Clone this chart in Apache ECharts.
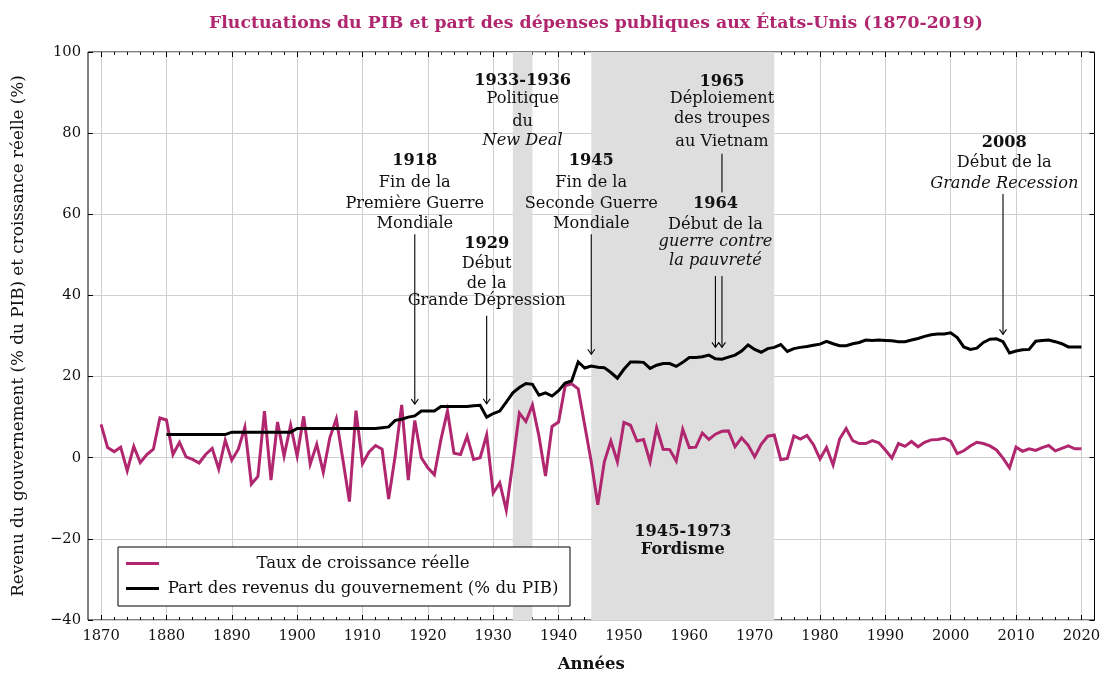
<!DOCTYPE html>
<html>
<head>
<meta charset="utf-8">
<script src="https://cdn.jsdelivr.net/npm/echarts@6/dist/echarts.min.js"></script>
<style>
  html, body { margin: 0; padding: 0; background: #fff; }
  #chart { width: 1113px; height: 675px; }
</style>
</head>
<body>
<div id="chart"></div>
<script>
// --- data ---
const growthStart = 1870;
const growth = [
  8.2, 2.5, 1.5, 2.6, -3.2, 2.8, -1.2, 0.8, 2.1, 9.8,
  9.3, 0.8, 3.8, 0.2, -0.4, -1.3, 0.8, 2.3, -2.8, 4.3,
  -0.6, 2.1, 7.5, -6.5, -4.6, 11.5, -5.5, 8.8, 0.4, 8.0,
  0.4, 10.2, -1.6, 3.3, -3.6, 4.9, 9.6, -0.5, -10.8, 11.6,
  -1.5, 1.4, 3.0, 2.1, -10.2, 0.4, 13.0, -5.5, 9.2, 0.0,
  -2.5, -4.2, 4.5, 11.5, 1.1, 0.8, 5.3, -0.4, 0.0, 5.6,
  -8.7, -6.2, -12.9, -1.2, 11.0, 8.9, 13.0, 5.3, -4.5, 7.7,
  8.8, 17.7, 18.2, 17.0, 8.0, -1.0, -11.6, -1.0, 4.1, -1.0,
  8.7, 8.0, 4.1, 4.5, -1.0, 7.4, 2.1, 2.0, -0.8, 7.0,
  2.5, 2.6, 6.1, 4.5, 5.8, 6.5, 6.6, 2.7, 4.9, 3.1,
  0.2, 3.3, 5.3, 5.6, -0.5, -0.2, 5.4, 4.6, 5.5, 3.2,
  -0.3, 2.5, -1.8, 4.6, 7.2, 4.2, 3.5, 3.5, 4.2, 3.7,
  1.9, -0.1, 3.5, 2.8, 4.0, 2.7, 3.8, 4.4, 4.5, 4.8,
  4.1, 1.0, 1.7, 2.9, 3.8, 3.5, 2.9, 1.9, -0.1, -2.5,
  2.6, 1.6, 2.2, 1.8, 2.5, 3.0, 1.7, 2.3, 2.9, 2.2,
  2.2
];

const govStart = 1880;
const govShare = [
  5.7, 5.7, 5.7, 5.7, 5.7, 5.7, 5.7, 5.7, 5.7, 5.7,
  6.3, 6.3, 6.3, 6.3, 6.3, 6.3, 6.3, 6.3, 6.3, 6.3,
  7.2, 7.2, 7.2, 7.2, 7.2, 7.2, 7.2, 7.2, 7.2, 7.2,
  7.2, 7.2, 7.2, 7.4, 7.6, 9.2, 9.5, 10.0, 10.3, 11.5,
  11.5, 11.5, 12.6, 12.6, 12.6, 12.6, 12.6, 12.8, 12.9, 10.0,
  10.9, 11.5, 13.7, 16.0, 17.3, 18.3, 18.1, 15.4, 16.0, 15.2,
  16.5, 18.4, 18.9, 23.6, 22.1, 22.6, 22.3, 22.2, 21.0, 19.6,
  21.8, 23.6, 23.6, 23.5, 22.0, 22.8, 23.2, 23.2, 22.5, 23.5,
  24.7, 24.7, 24.9, 25.3, 24.4, 24.3, 24.8, 25.3, 26.3, 27.8,
  26.7, 26.0, 26.9, 27.2, 27.9, 26.2, 26.9, 27.2, 27.4, 27.7,
  28.0, 28.7, 28.1, 27.6, 27.6, 28.1, 28.4, 29.0, 28.9, 29.0,
  28.9, 28.8, 28.6, 28.6, 29.0, 29.4, 29.9, 30.3, 30.5, 30.5,
  30.8, 29.6, 27.3, 26.7, 27.0, 28.4, 29.2, 29.3, 28.6, 25.8,
  26.3, 26.6, 26.7, 28.7, 28.9, 29.0, 28.6, 28.1, 27.3, 27.3,
  27.3
];

const xTicks = [1870, 1880, 1890, 1900, 1910, 1920, 1930, 1940, 1950, 1960,
  1970, 1980, 1990, 2000, 2010, 2020];
const bands = [[1933, 1936], [1945, 1973]];
const seriesNames = ['Taux de croissance réelle', 'Part des revenus du gouvernement (% du PIB)'];

// annotations: x in years, each line [text, y value, style]
const notes = [
  { x: 1918, lines: [['1918', 73.1, 'b'], ['Fin de la', 67.8], ['Première Guerre', 62.6], ['Mondiale', 57.7]] },
  { x: 1929, lines: [['1929', 52.7, 'b'], ['Début', 47.8], ['de la', 42.9], ['Grande Dépression', 38.6]] },
  { x: 1934.5, lines: [['1933-1936', 92.8, 'b'], ['Politique', 88.5], ['du', 82.7], ['New Deal', 78.0, 'i']] },
  { x: 1945, lines: [['1945', 73.1, 'b'], ['Fin de la', 67.8], ['Seconde Guerre', 62.6], ['Mondiale', 57.7]] },
  { x: 1965, lines: [['1965', 92.7, 'b'], ['Déploiement', 88.5], ['des troupes', 83.6], ['au Vietnam', 77.9]] },
  { x: 1964, lines: [['1964', 62.6, 'b'], ['Début de la', 57.5], ['guerre contre', 53.2, 'i'], ['la pauvreté', 48.5, 'i']] },
  { x: 2008.2, lines: [['2008', 77.7, 'b'], ['Début de la', 72.7], ['Grande Recession', 67.6, 'i']] },
  { x: 1959, lines: [['1945-1973', -18.3, 'b'], ['Fordisme', -22.8, 'b']] }
];
// arrows: [x, from, to, head]
const arrows = [
  [1918, 55.1, 13.2, true],
  [1929, 35.0, 13.3, true],
  [1945, 55.1, 25.5, true],
  [1964, 44.8, 27.2, true],
  [1965, 74.9, 65.4, false],
  [1965, 44.8, 27.2, true],
  [2008, 65.0, 30.4, true]
];

const pink = '#b0276f';
const ink = '#111';
const serif = '"DejaVu Serif", serif';

const growthPts = growth.map((v, i) => [growthStart + i, v]);
const govPts = govShare.map((v, i) => [govStart + i, v]);
const minorTicks = [];
xTicks.slice(0, -1).forEach(t => { for (let k = 2; k < 10; k += 2) minorTicks.push(t + k); });

const minus = v => (v < 0 ? '\u2212' + Math.abs(v) : String(v));

const baseX = {
  type: 'value', min: 1868, max: 2022,
  axisLine: { show: false, onZero: false },
  splitLine: { show: false }, axisLabel: { show: false }
};

const chart = echarts.init(document.getElementById('chart'));
const option = {
  animation: false,
  title: {
    text: 'Fluctuations du PIB et part des dépenses publiques aux États-Unis (1870-2019)',
    left: 591, top: 10, textAlign: 'center',
    textStyle: { color: pink, fontFamily: serif, fontWeight: 'bold', fontSize: 17.3 }
  },
  grid: {
    left: 88, right: 18.5, top: 52, bottom: 55, outerBoundsMode: 'none', containLabel: false,
    show: true, borderColor: '#000', borderWidth: 1, backgroundColor: 'transparent'
  },
  legend: {
    orient: 'vertical', left: 118, top: 547,
    data: seriesNames,
    icon: 'rect',
    itemWidth: 33, itemHeight: 3, itemGap: 8,
    padding: [8, 8, 9, 8],
    backgroundColor: '#fff', borderColor: '#000', borderWidth: 1, borderRadius: 0,
    formatter: n => '{c|' + n + '}',
    textStyle: { rich: { c: { width: 398, align: 'center', fontFamily: serif, fontSize: 16.6, lineHeight: 20, color: ink } } }
  },
  xAxis: [
    Object.assign({}, baseX, {
      position: 'bottom',
      axisTick: { inside: true, length: 5, customValues: xTicks, lineStyle: { color: '#000' } },
      axisLabel: { show: true, customValues: xTicks, formatter: v => String(v), margin: 9, fontFamily: serif, fontSize: 14.7, color: ink },
      splitLine: { show: true, lineStyle: { color: '#cfcfcf', width: 1 } },
      name: 'Années', nameLocation: 'middle', nameGap: 36,
      nameTextStyle: { fontFamily: serif, fontWeight: 'bold', fontSize: 16.5, color: ink }
    }),
    Object.assign({}, baseX, { position: 'bottom', axisTick: { inside: true, length: 3, customValues: minorTicks, lineStyle: { color: '#000' } } }),
    Object.assign({}, baseX, { position: 'top', axisTick: { inside: true, length: 5, customValues: xTicks, lineStyle: { color: '#000' } } }),
    Object.assign({}, baseX, { position: 'top', axisTick: { inside: true, length: 3, customValues: minorTicks, lineStyle: { color: '#000' } } })
  ],
  yAxis: [
    {
      type: 'value', min: -40, max: 100, interval: 20, position: 'left',
      axisLine: { show: false, onZero: false },
      axisTick: { show: true, inside: true, length: 5, lineStyle: { color: '#000' } },
      axisLabel: { formatter: minus, margin: 7, fontFamily: serif, fontSize: 14.7, color: ink },
      splitLine: { show: true, lineStyle: { color: '#cfcfcf', width: 1 } },
      name: 'Revenu du gouvernement (% du PIB) et croissance réelle (%)',
      nameLocation: 'middle', nameGap: 61, nameRotate: 90,
      nameTextStyle: { fontFamily: serif, fontSize: 16.8, color: ink }
    },
    {
      type: 'value', min: -40, max: 100, interval: 20, position: 'right',
      axisLine: { show: false, onZero: false }, axisLabel: { show: false }, splitLine: { show: false },
      axisTick: { show: true, inside: true, length: 5, lineStyle: { color: '#000' } }
    }
  ],
  series: [
    {
      type: 'line', data: [], z: 1, silent: true,
      markArea: {
        silent: true, itemStyle: { color: '#dedede' },
        data: bands.map(b => [{ xAxis: b[0], yAxis: -40 }, { xAxis: b[1], yAxis: 100 }])
      }
    },
    {
      name: seriesNames[0], type: 'line', data: growthPts, symbol: 'none', z: 3,
      lineStyle: { color: pink, width: 3, join: 'miter', miterLimit: 6 }, itemStyle: { color: pink }
    },
    {
      name: seriesNames[1], type: 'line', data: govPts, symbol: 'none', z: 4,
      lineStyle: { color: '#000', width: 3, join: 'miter', miterLimit: 6 }, itemStyle: { color: '#000' }
    }
  ]
};
chart.setOption(option);

// annotations placed through the chart's own scales
function fontFor(st) {
  const w = st === 'b' ? 'bold ' : st === 'i' ? 'italic ' : '';
  return w + '16.2px ' + serif;
}
const els = [];
notes.forEach(n => {
  n.lines.forEach(([txt, y, st]) => {
    const p = chart.convertToPixel({ gridIndex: 0 }, [n.x, y]);
    els.push({
      type: 'text', z: 100, x: p[0], y: p[1],
      style: { text: txt, font: fontFor(st), fill: ink, align: 'center', verticalAlign: 'middle' }
    });
  });
});
arrows.forEach(([x, from, to, head]) => {
  const a = chart.convertToPixel({ gridIndex: 0 }, [x, from]);
  const b = chart.convertToPixel({ gridIndex: 0 }, [x, to]);
  els.push({ type: 'line', z: 100, shape: { x1: a[0], y1: a[1], x2: b[0], y2: b[1] }, style: { stroke: '#000', lineWidth: 1.1 } });
  if (head) {
    els.push({
      type: 'polyline', z: 100,
      shape: { points: [[b[0] - 3.5, b[1] - 5], [b[0], b[1]], [b[0] + 3.5, b[1] - 5]] },
      style: { stroke: '#000', lineWidth: 1.1, fill: 'none' }
    });
  }
});
chart.setOption({ graphic: els });
</script>
</body>
</html>
